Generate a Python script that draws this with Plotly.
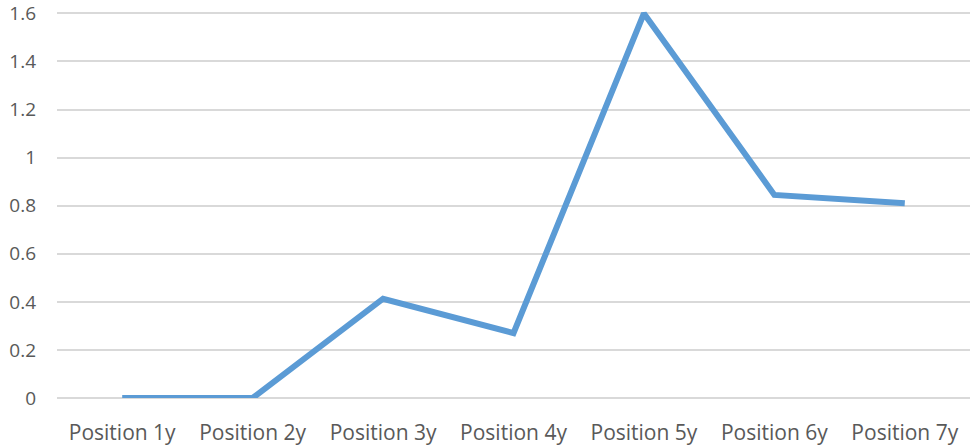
import plotly.graph_objects as go

# categories and values
positions = ['Position 1y', 'Position 2y', 'Position 3y', 'Position 4y',
             'Position 5y', 'Position 6y', 'Position 7y']
values = [0, 0, 0.413, 0.27, 1.6, 0.845, 0.81]
y_ticks = [0, 0.2, 0.4, 0.6, 0.8, 1, 1.2, 1.4, 1.6]

fig = go.Figure()
fig.add_trace(go.Scatter(x=positions, y=values, mode='lines',
                         line=dict(color='#5B9BD5', width=6),
                         cliponaxis=False))

fig.update_layout(
    width=973, height=445,
    margin=dict(l=57, r=3, t=11, b=47, autoexpand=False),
    plot_bgcolor='white', paper_bgcolor='white',
    showlegend=False,
    font=dict(family='Open Sans, Lato, sans-serif', size=19, color='#595959'),
)
fig.update_xaxes(range=[-0.5, 6.5], showgrid=False, showline=False,
                 zeroline=False, automargin=False, ticklabelstandoff=20,
                 ticklabeloverflow='allow', tickfont=dict(size=21))
fig.update_yaxes(range=[0, 1.61], tickvals=y_ticks,
                 ticktext=[f'{v:g}' for v in y_ticks],
                 showgrid=True, gridcolor='#D9D9D9', gridwidth=1.5,
                 zeroline=True, zerolinecolor='#D9D9D9', zerolinewidth=1.5,
                 showline=False, automargin=False, ticklabelstandoff=20,
                 ticklabeloverflow='allow')

fig.write_html("out.html", config={'displayModeBar': False},
               post_script="document.body.style.margin='0';")
